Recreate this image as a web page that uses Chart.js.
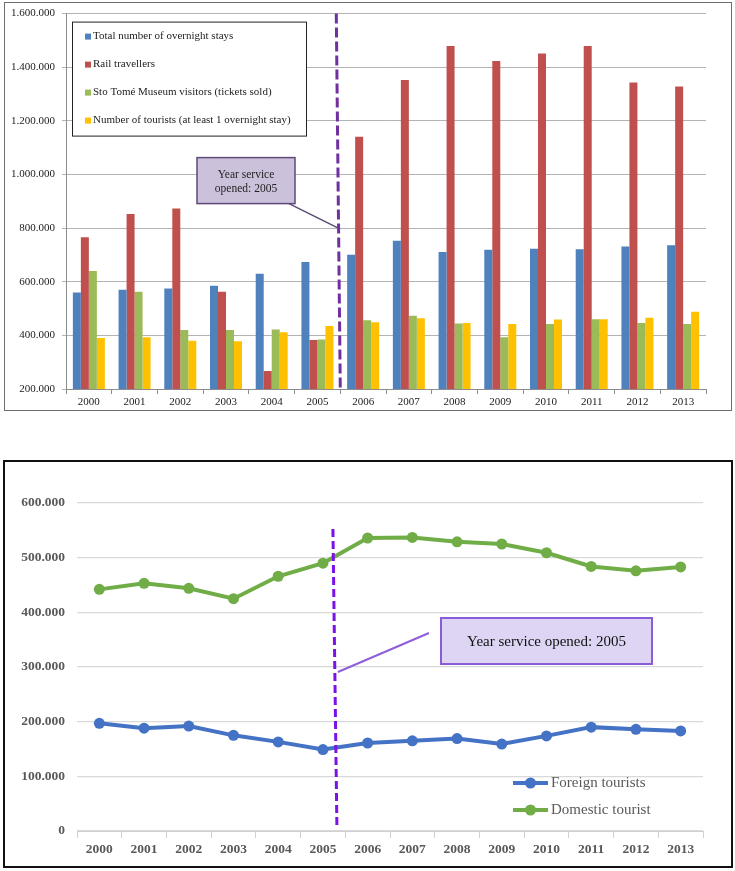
<!DOCTYPE html>
<html lang="en">
<head>
<meta charset="UTF-8">
<title>Tourism and rail travellers 2000-2013</title>
<script src="https://cdn.jsdelivr.net/npm/chart.js@4.4.0/dist/chart.umd.min.js"></script>
<style>
    body { margin: 0; background: #fff; width: 735px; height: 871px; position: relative; overflow: hidden; }
    .frame { position: absolute; box-sizing: border-box; }
    #topFrame { left: 4px; top: 2px; width: 728px; height: 409px; border: 1px solid #6e6e6e; }
    #bottomFrame { left: 3px; top: 460px; width: 730px; height: 408px; border: 2px solid #111; }
    canvas { position: absolute; left: 0; }
    #barChart { top: 0; }
    #lineChart { top: 455px; }
</style>
</head>
<body>
<div class="frame" id="topFrame"></div>
<div class="frame" id="bottomFrame"></div>
<canvas id="barChart" width="735" height="415"></canvas>
<canvas id="lineChart" width="735" height="416"></canvas>

<script>
    // data
    const years = ['2000', '2001', '2002', '2003', '2004', '2005', '2006', '2007', '2008', '2009', '2010', '2011', '2012', '2013'];
    const overnightStays   = [560000, 570000, 575000, 585000, 630000, 674000, 701000, 753000, 711000, 719000, 723000, 721000, 731000, 736000];
    const railTravellers   = [766000, 853000, 873000, 563000, 267000, 383000, 1141000, 1352000, 1479000, 1423000, 1451000, 1479000, 1343000, 1328000];
    const museumVisitors   = [640000, 563000, 420000, 420000, 422000, 385000, 456000, 473000, 444000, 393000, 442000, 460000, 446000, 442000];
    const touristsOneNight = [390000, 393000, 380000, 378000, 412000, 435000, 449000, 464000, 446000, 442000, 459000, 460000, 466000, 488000];
    const foreignTourists  = [197000, 188000, 192000, 175000, 163000, 149000, 161000, 165000, 169000, 159000, 174000, 190000, 186000, 183000];
    const domesticTourists = [442000, 453000, 444000, 425000, 466000, 490000, 536000, 537000, 529000, 525000, 509000, 484000, 476000, 483000];

    const serif = 'Liberation Serif';
    const dots = v => String(v).replace(/\B(?=(\d{3})+(?!\d))/g, '.');

    // ---- top: grouped bars ----
    const barExtras = {
        id: 'barExtras',
        afterDraw(chart) {
            const c = chart.ctx, a = chart.chartArea, xs = chart.scales.x;
            const cut = (xs.getPixelForValue(5) + xs.getPixelForValue(6)) / 2;
            c.save();

            // dashed "service opened" line
            c.strokeStyle = '#7030A0';
            c.lineWidth = 3;
            c.setLineDash([10, 4]);
            c.beginPath();
            c.moveTo(cut - 4, a.top);
            c.lineTo(cut, a.bottom);
            c.stroke();
            c.setLineDash([]);

            // callout box
            const bx = a.left + 131, by = a.top + 144, bw = 98, bh = 46;
            c.strokeStyle = '#5F497A';
            c.lineWidth = 1.5;
            c.beginPath();
            c.moveTo(bx + bw - 6, by + bh);
            c.lineTo(cut - 3, a.top + 214);
            c.stroke();
            c.fillStyle = '#CCC1DA';
            c.fillRect(bx, by, bw, bh);
            c.strokeRect(bx, by, bw, bh);
            c.fillStyle = '#222';
            c.font = '11.5px ' + serif;
            c.textAlign = 'center';
            c.textBaseline = 'middle';
            c.fillText('Year service', bx + bw / 2, by + 17);
            c.fillText('opened: 2005', bx + bw / 2, by + 31);

            // legend box
            const lx = a.left + 6, ly = a.top + 8;
            c.fillStyle = '#fff';
            c.fillRect(lx, ly, 234, 114);
            c.strokeStyle = '#222';
            c.lineWidth = 1;
            c.strokeRect(lx + 0.5, ly + 0.5, 234, 114);
            c.textAlign = 'left';
            c.font = '11px ' + serif;
            chart.data.datasets.forEach((ds, i) => {
                const y = ly + 15 + i * 28;
                c.fillStyle = ds.backgroundColor;
                c.fillRect(lx + 13, y - 3, 6, 6);
                c.fillStyle = '#222';
                c.fillText(ds.label, lx + 21, y);
            });
            c.restore();
        }
    };

    new Chart(document.getElementById('barChart'), {
        type: 'bar',
        data: {
            labels: years,
            datasets: [
                { label: 'Total number of overnight stays', data: overnightStays, backgroundColor: '#4F81BD' },
                { label: 'Rail travellers', data: railTravellers, backgroundColor: '#C0504D' },
                { label: 'Sto Tomé Museum visitors (tickets sold)', data: museumVisitors, backgroundColor: '#9BBB59' },
                { label: 'Number of tourists (at least 1 overnight stay)', data: touristsOneNight, backgroundColor: '#FFC000' }
            ]
        },
        options: {
            responsive: false,
            animation: false,
            datasets: { bar: { barPercentage: 1, categoryPercentage: 0.7 } },
            layout: { padding: { top: 9, right: 29, left: 0, bottom: 0 } },
            plugins: { legend: { display: false }, tooltip: { enabled: false } },
            scales: {
                x: {
                    grid: { drawOnChartArea: false, tickLength: 5, color: '#8c8c8c' },
                    border: { color: '#8c8c8c' },
                    ticks: { font: { family: serif, size: 11 }, color: '#222', padding: 2, maxRotation: 0 },
                    afterFit: s => { s.height = 26; }
                },
                y: {
                    min: 200000,
                    max: 1600000,
                    ticks: { stepSize: 200000, callback: dots, font: { family: serif, size: 11 }, color: '#222', padding: 7 },
                    grid: { color: '#b3b3b3', tickLength: 4 },
                    border: { color: '#8c8c8c' },
                    afterFit: s => { s.width = 66; }
                }
            }
        },
        plugins: [barExtras]
    });

    // ---- bottom: foreign vs domestic lines ----
    const lineExtras = {
        id: 'lineExtras',
        afterDraw(chart) {
            const c = chart.ctx, a = chart.chartArea, xs = chart.scales.x;
            const p5 = xs.getPixelForValue(5);
            c.save();

            c.strokeStyle = '#7A12E8';
            c.lineWidth = 3;
            c.setLineDash([8, 4]);
            c.beginPath();
            c.moveTo(p5 + 10, a.top + 26);
            c.lineTo(p5 + 14, a.bottom - 3);
            c.stroke();
            c.setLineDash([]);

            c.strokeStyle = '#8F5FDB';
            c.lineWidth = 2;
            c.beginPath();
            c.moveTo(p5 + 15, a.top + 169);
            c.lineTo(a.left + 352, a.top + 130);
            c.stroke();

            const bx = a.left + 364, by = a.top + 115, bw = 211, bh = 46;
            c.fillStyle = '#DDD5F3';
            c.fillRect(bx, by, bw, bh);
            c.strokeStyle = '#8A5CD9';
            c.strokeRect(bx, by, bw, bh);
            c.fillStyle = '#111';
            c.font = '15px ' + serif;
            c.textAlign = 'center';
            c.textBaseline = 'middle';
            c.fillText('Year service opened: 2005', bx + bw / 2, by + bh / 2 + 1);

            // legend
            c.textAlign = 'left';
            chart.data.datasets.forEach((ds, i) => {
                const y = a.bottom - 48 + i * 27;
                const x0 = a.right - 190;
                c.strokeStyle = ds.borderColor;
                c.lineWidth = 4;
                c.beginPath();
                c.moveTo(x0, y);
                c.lineTo(x0 + 35, y);
                c.stroke();
                c.fillStyle = ds.borderColor;
                c.beginPath();
                c.arc(x0 + 17.5, y, 5.5, 0, Math.PI * 2);
                c.fill();
                c.fillStyle = '#595959';
                c.fillText(ds.label, x0 + 38, y);
            });
            c.restore();
        }
    };

    new Chart(document.getElementById('lineChart'), {
        type: 'line',
        data: {
            labels: years,
            datasets: [
                { label: 'Foreign tourists', data: foreignTourists, borderColor: '#4472C4', backgroundColor: '#4472C4' },
                { label: 'Domestic tourist', data: domesticTourists, borderColor: '#70AD47', backgroundColor: '#70AD47' }
            ]
        },
        options: {
            responsive: false,
            animation: false,
            elements: {
                line: { borderWidth: 4, tension: 0 },
                point: { radius: 5.5, borderWidth: 0 }
            },
            layout: { padding: { top: 48, right: 32, left: 0, bottom: 0 } },
            plugins: { legend: { display: false }, tooltip: { enabled: false } },
            scales: {
                x: {
                    offset: true,
                    grid: { offset: true, drawOnChartArea: false, tickLength: 7, color: '#d0d0d0' },
                    border: { color: '#d0d0d0' },
                    ticks: { font: { family: serif, size: 13.5, weight: 'bold' }, color: '#595959', padding: 3, maxRotation: 0 },
                    afterFit: s => { s.height = 40; }
                },
                y: {
                    min: 0,
                    max: 600000,
                    ticks: { stepSize: 100000, callback: dots, font: { family: serif, size: 13.5, weight: 'bold' }, color: '#595959', padding: 12 },
                    grid: { color: '#d9d9d9', lineWidth: 1.3, drawTicks: false },
                    border: { display: false },
                    afterFit: s => { s.width = 77; }
                }
            }
        },
        plugins: [lineExtras]
    });
</script>
</body>
</html>
